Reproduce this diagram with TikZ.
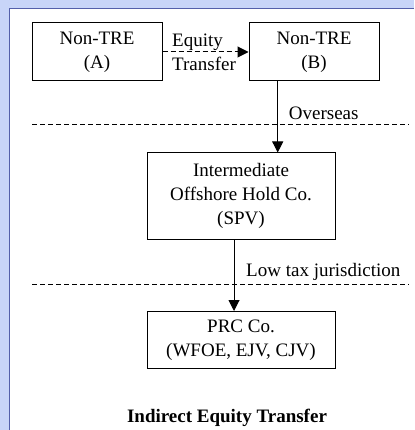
\documentclass[tikz,border=0pt]{standalone}
\usepackage{fontspec}
\setmainfont{Liberation Serif}
\usetikzlibrary{arrows.meta,calc}
\definecolor{pagebg}{RGB}{200,213,248}
\definecolor{panelrule}{RGB}{84,96,170}
\tikzset{
  entity/.style={draw=black,line width=1pt,align=center,inner sep=0pt,
    font=\fontsize{19}{24}\selectfont},
  own/.style={line width=1pt,-{Triangle[width=11pt,length=11pt]}},
  border/.style={line width=1pt,dash pattern=on 5pt off 3pt},
  lbl/.style={font=\fontsize{19}{24}\selectfont,inner sep=0pt},
}
\begin{document}
\begin{tikzpicture}[x=1pt,y=-1pt]
  \useasboundingbox (0,0) rectangle (414,430);
  \fill[pagebg] (0,0) rectangle (414,430);
  \fill[white] (9,9) rectangle (414,430);
  \draw[panelrule,line width=1pt] (9,430) -- (9,9) -- (414,9);

  \node[entity,minimum width=130pt,minimum height=58pt] (treA) at (97,52) {Non-TRE\\(A)};
  \node[entity,minimum width=130pt,minimum height=58pt] (treB) at (314,52) {Non-TRE\\(B)};
  \node[entity,minimum width=188pt,minimum height=86pt] (spv) at (241,196)
    {Intermediate\\Offshore Hold Co.\\(SPV)};
  \node[entity,minimum width=188pt,minimum height=57pt] (prc) at (241,340)
    {PRC Co.\\(WFOE, EJV, CJV)};

  % jurisdiction borders
  \coordinate (ovL) at (32,125);
  \coordinate (ovR) at (409,125);
  \coordinate (ltL) at (32,284);
  \coordinate (ltR) at (409,284);
  \draw[border] (ovL) -- (ovR);
  \draw[border] (ltL) -- (ltR);

  % equity transfer
  \draw[own,dash pattern=on 5pt off 3pt] (treA) -- (treB);
  \node[lbl,align=left,anchor=west] (eqt) at (172,52) {Equity\\Transfer};

  % holdings
  \coordinate (dropB) at ($(treB.south west)!0.223!(treB.south east)$);
  \coordinate (dropS) at ($(spv.south west)!0.463!(spv.south east)$);
  \draw[own] (dropB) -- (dropB |- spv.north);
  \draw[own] (dropS) -- (dropS |- prc.north);
  \node[lbl,anchor=base west] (ovs) at ($(dropB |- ovL)+(11,-5)$) {Overseas};
  \node[lbl,anchor=base west] (ltj) at ($(dropS |- ltL)+(12,-8)$) {Low tax jurisdiction};

  \node[lbl,font=\fontsize{19}{24}\selectfont\bfseries,anchor=base] (title) at (227,422)
    {Indirect Equity Transfer};
\end{tikzpicture}
\end{document}
